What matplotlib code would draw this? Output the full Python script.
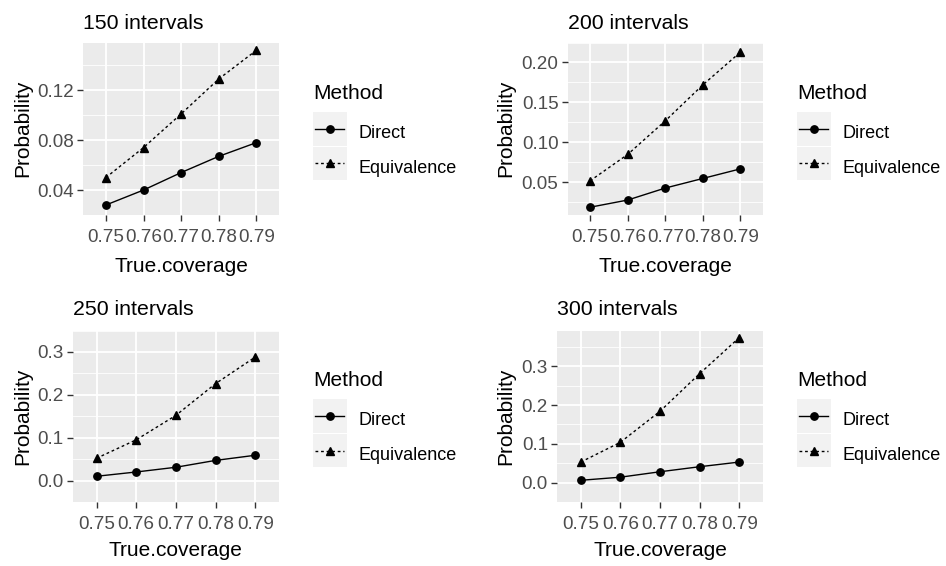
import matplotlib
matplotlib.use("Agg")
import matplotlib.pyplot as plt
from matplotlib.lines import Line2D
import numpy as np

plt.rcParams['font.family'] = ['Liberation Sans', 'DejaVu Sans']

# ---- data ----
coverage = ["0.75", "0.76", "0.77", "0.78", "0.79"]
titles = ["150 intervals", "200 intervals", "250 intervals", "300 intervals"]
direct_150 = [0.028, 0.040, 0.054, 0.067, 0.078]
equiv_150 = [0.050, 0.074, 0.101, 0.129, 0.152]
direct_200 = [0.019, 0.028, 0.043, 0.055, 0.067]
equiv_200 = [0.052, 0.085, 0.127, 0.172, 0.213]
direct_250 = [0.010, 0.020, 0.031, 0.047, 0.059]
equiv_250 = [0.052, 0.095, 0.152, 0.226, 0.288]
direct_300 = [0.006, 0.014, 0.028, 0.041, 0.053]
equiv_300 = [0.053, 0.104, 0.184, 0.281, 0.374]
yticks_150 = [0.04, 0.08, 0.12]
yticks_200 = [0.05, 0.10, 0.15, 0.20]
yticks_250 = [0.0, 0.1, 0.2, 0.3]
yticks_300 = [0.0, 0.1, 0.2, 0.3]
ylabels_150 = ["0.04", "0.08", "0.12"]
ylabels_200 = ["0.05", "0.10", "0.15", "0.20"]
ylabels_250 = ["0.0", "0.1", "0.2", "0.3"]
ylabels_300 = ["0.0", "0.1", "0.2", "0.3"]
methods = ["Direct", "Equivalence"]

W, H = 946, 566
fig = plt.figure(figsize=(W / 100, H / 100), dpi=100)
fig.patch.set_facecolor("white")


def rect(l, t, r, b):
    return [l / W, 1 - b / H, (r - l) / W, (b - t) / H]


def fx(x):
    return x / W


def fy(y):
    return 1 - y / H


panels = [
    dict(box=(83.3, 42.5, 279, 215), direct=direct_150, equiv=equiv_150,
         yt=yticks_150, yl=ylabels_150, title=titles[0], ylab_x=23, leg_x=313, dy=0,
         title_y=29.3, xlab_y=271.7),
    dict(box=(567.5, 42.5, 763, 215), direct=direct_200, equiv=equiv_200,
         yt=yticks_200, yl=ylabels_200, title=titles[1], ylab_x=506, leg_x=797, dy=0,
         title_y=29.3, xlab_y=271.7),
    dict(box=(72.7, 330.5, 279, 502), direct=direct_250, equiv=equiv_250,
         yt=yticks_250, yl=ylabels_250, title=titles[2], ylab_x=23, leg_x=313, dy=287,
         title_y=315.3, xlab_y=556),
    dict(box=(557, 330.5, 763, 502), direct=direct_300, equiv=equiv_300,
         yt=yticks_300, yl=ylabels_300, title=titles[3], ylab_x=506, leg_x=797, dy=287,
         title_y=315.3, xlab_y=556),
]

tick_col = "#4D4D4D"
for p in panels:
    l, t, r, b = p["box"]
    ax = fig.add_axes(rect(l, t, r, b))
    ax.set_facecolor("#EBEBEB")
    for s in ax.spines.values():
        s.set_visible(False)
    ax.plot(coverage, p["direct"], color="black", lw=1.0, marker="o", ms=5.3, zorder=3)
    ax.plot(coverage, p["equiv"], color="black", lw=1.0, ls=(0, (2, 2)), marker="^", ms=6.0, zorder=3)
    ax.set_xlim(-0.6, len(coverage) - 1 + 0.6)
    allv = np.array(p["direct"] + p["equiv"])
    lo, hi = allv.min(), allv.max()
    pad = 0.05 * (hi - lo)
    ax.set_ylim(lo - pad, hi + pad)
    ax.set_yticks(p["yt"])
    ax.set_yticklabels(p["yl"])
    step = p["yt"][1] - p["yt"][0]
    minors = np.arange(p["yt"][0] - step / 2, p["yt"][-1] + step, step)
    ax.set_yticks(minors, minor=True)
    ax.tick_params(axis="y", which="minor", length=0)
    ax.grid(True, which="major", color="white", lw=1.3)
    ax.grid(True, which="minor", axis="y", color="white", lw=0.6)
    ax.set_axisbelow(True)
    ax.tick_params(axis="both", which="major", length=4.5, width=1.0, color="#333333",
                   labelsize=13.6, labelcolor=tick_col, pad=2.0)
    ax.tick_params(axis="x", pad=5.5)
    # titles
    fig.text(fx(l), fy(p["title_y"]), p["title"], fontsize=15.3, ha="left", va="baseline")
    fig.text(fx((l + r) / 2), fy(p["xlab_y"]), "True.coverage", fontsize=15.0,
             ha="center", va="baseline")
    fig.text(fx(p["ylab_x"]), fy((t + b) / 2), "Probability", fontsize=15.0,
             rotation=90, ha="center", va="center")
    # legend
    lx = p["leg_x"]
    ly = 112.3 + p["dy"]
    fig.text(fx(lx), fy(ly - 13), "Method", fontsize=15.0, ha="left", va="baseline")
    for i, m in enumerate(methods):
        top = ly + i * 34.4
        kax = fig.add_axes(rect(lx, top, lx + 34, top + 33.6))
        kax.set_facecolor("#F2F2F2")
        kax.set_xlim(0, 1)
        kax.set_ylim(0, 1)
        kax.set_xticks([])
        kax.set_yticks([])
        for s in kax.spines.values():
            s.set_visible(False)
        if i == 0:
            kax.add_line(Line2D([0.05, 0.9], [0.5, 0.5], color="black", lw=1.0))
            kax.plot([0.5], [0.5], marker="o", color="black", ms=5.3)
        else:
            kax.add_line(Line2D([0.05, 0.9], [0.5, 0.5], color="black", lw=1.0,
                                ls=(0, (2, 2))))
            kax.plot([0.5], [0.5], marker="^", color="black", ms=6.0)
        fig.text(fx(lx + 45), fy(top + 16.8 + 9.3), m, fontsize=13.0, ha="left", va="baseline")

fig.savefig("out.png", dpi=100)
